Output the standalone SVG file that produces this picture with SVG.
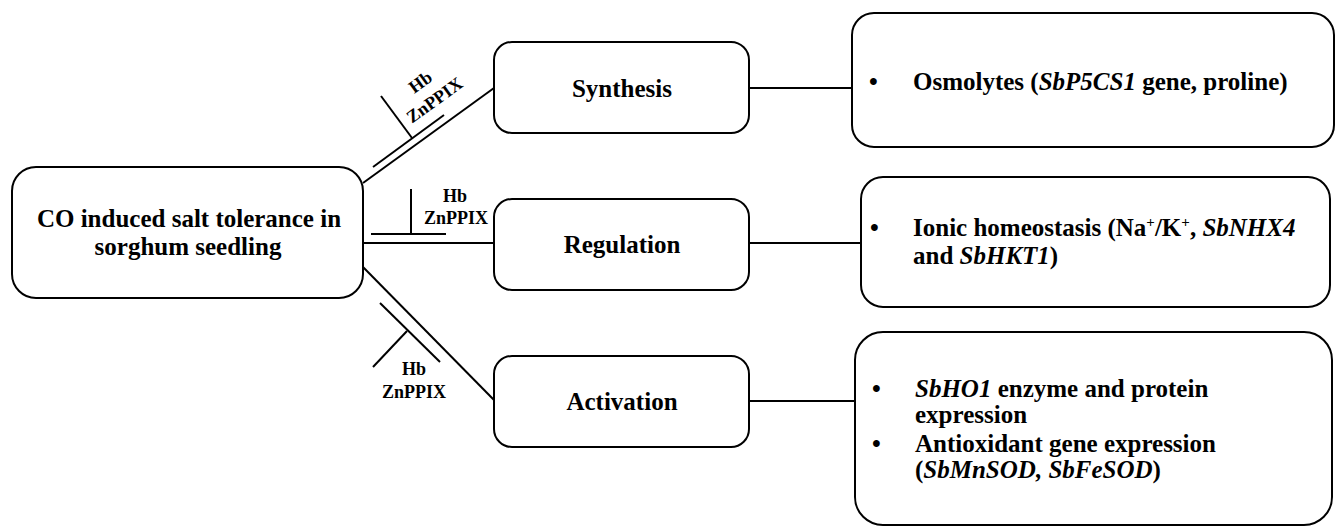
<svg xmlns="http://www.w3.org/2000/svg" width="1335" height="528" viewBox="0 0 1335 528">
<style>
.box{fill:#fff;stroke:#000;stroke-width:2}
.ln{stroke:#000;stroke-width:2;fill:none}
.t{font-family:"Liberation Serif","Times New Roman",serif;font-weight:bold;font-size:25px;fill:#000}
.s{font-family:"Liberation Serif","Times New Roman",serif;font-weight:bold;font-size:18px;fill:#000}
.c{text-anchor:middle}
.i{font-style:italic}
</style>
<rect width="1335" height="528" fill="#fff"/>
<g id="connectors">
<line class="ln" x1="363" y1="183" x2="494" y2="88"/>
<line class="ln" x1="373" y1="167" x2="444" y2="115"/>
<line class="ln" x1="381" y1="96" x2="412" y2="138"/>
<line class="ln" x1="363" y1="243" x2="494" y2="243"/>
<line class="ln" x1="371" y1="234" x2="446" y2="234"/>
<line class="ln" x1="411" y1="189" x2="411" y2="234"/>
<line class="ln" x1="363" y1="267" x2="494" y2="400"/>
<line class="ln" x1="380" y1="303" x2="440" y2="362"/>
<line class="ln" x1="407" y1="331" x2="373" y2="367"/>
<line class="ln" x1="749" y1="88" x2="852" y2="88"/>
<line class="ln" x1="749" y1="243" x2="861" y2="243"/>
<line class="ln" x1="749" y1="401" x2="855" y2="401"/>
<text class="s c" transform="translate(424,87) rotate(-36)">Hb</text>
<text class="s c" transform="translate(438,105) rotate(-36)">ZnPPIX</text>
<text class="s c" x="455" y="202">Hb</text>
<text class="s c" x="456" y="224">ZnPPIX</text>
<text class="s c" x="414" y="375">Hb</text>
<text class="s c" x="414" y="398">ZnPPIX</text>
</g>
<g id="root">
<rect class="box" x="12" y="167" width="351" height="131" rx="24"/>
<text class="t c" x="189" y="227">CO induced salt tolerance in</text>
<text class="t c" x="188" y="255">sorghum seedling</text>
</g>
<g id="synthesis">
<rect class="box" x="494" y="42" width="255" height="91" rx="18"/>
<text class="t c" x="622" y="97">Synthesis</text>
</g>
<g id="regulation">
<rect class="box" x="494" y="199" width="255" height="91" rx="18"/>
<text class="t c" x="622" y="253">Regulation</text>
</g>
<g id="activation">
<rect class="box" x="494" y="356" width="255" height="91" rx="18"/>
<text class="t c" x="622" y="410">Activation</text>
</g>
<g id="osmolytes">
<rect class="box" x="852" y="13" width="482" height="134" rx="22"/>
<text class="t" x="869" y="90">•</text>
<text class="t" x="913" y="90">Osmolytes (<tspan class="i">SbP5CS1</tspan> gene, proline)</text>
</g>
<g id="ionic">
<rect class="box" x="861" y="177" width="469" height="130" rx="22"/>
<text class="t" x="870" y="236">•</text>
<text class="t" x="913" y="236">Ionic homeostasis (Na<tspan font-size="15" dy="-9">+</tspan><tspan dy="9">/K</tspan><tspan font-size="15" dy="-9">+</tspan><tspan dy="9">, </tspan><tspan class="i">SbNHX4</tspan></text>
<text class="t" x="913" y="264">and <tspan class="i">SbHKT1</tspan>)</text>
</g>
<g id="antioxidant">
<rect class="box" x="855" y="332" width="477" height="193" rx="28"/>
<text class="t" x="872" y="397">•</text>
<text class="t" x="915" y="397"><tspan class="i">SbHO1</tspan> enzyme and protein</text>
<text class="t" x="915" y="423">expression</text>
<text class="t" x="872" y="452">•</text>
<text class="t" x="915" y="452">Antioxidant gene expression</text>
<text class="t" x="915" y="478">(<tspan class="i">SbMnSOD, SbFeSOD</tspan>)</text>
</g>
</svg>
